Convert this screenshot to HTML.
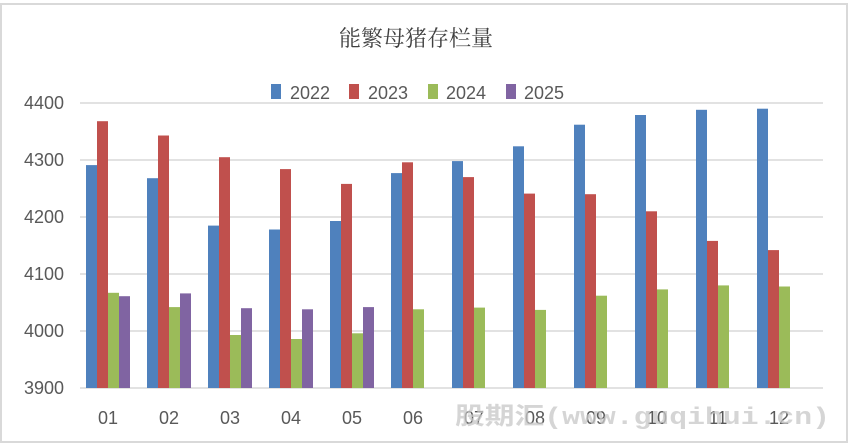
<!DOCTYPE html>
<html><head><meta charset="utf-8"><style>
html,body{margin:0;padding:0;background:#fff;}
svg{display:block;}
</style></head><body>
<svg width="852" height="444" xmlns="http://www.w3.org/2000/svg" font-family="Liberation Sans, Noto Sans CJK SC, sans-serif">
<rect x="0" y="0" width="852" height="444" fill="#fff"/>
<rect x="1" y="4" width="846" height="438" fill="none" stroke="#d9d9d9" stroke-width="2"/>
<text x="416" y="46" text-anchor="middle" font-size="22" fill="#404040" font-family="Noto Serif CJK SC, Noto Sans CJK SC, serif">能繁母猪存栏量</text>
<g font-size="18" fill="#595959">
<rect x="271" y="84" width="10" height="15" fill="#4f81bd"/><text x="290" y="99">2022</text>
<rect x="349" y="84" width="10" height="15" fill="#c0504d"/><text x="368" y="99">2023</text>
<rect x="428" y="84" width="10" height="15" fill="#9bbb59"/><text x="446" y="99">2024</text>
<rect x="506" y="84" width="10" height="15" fill="#8064a2"/><text x="524" y="99">2025</text>
</g>
<g stroke="#d9d9d9" stroke-width="1.5">
<line x1="80" y1="103" x2="823" y2="103"/>
<line x1="80" y1="160" x2="823" y2="160"/>
<line x1="80" y1="217" x2="823" y2="217"/>
<line x1="80" y1="274" x2="823" y2="274"/>
<line x1="80" y1="331" x2="823" y2="331"/>
<line x1="80" y1="388" x2="823" y2="388"/>
</g>
<g font-size="18" fill="#595959" text-anchor="end">
<text x="64" y="109">4400</text><text x="64" y="166">4300</text><text x="64" y="223">4200</text>
<text x="64" y="280">4100</text><text x="64" y="337">4000</text><text x="64" y="394">3900</text>
</g>
<g>
<rect x="86" y="165.1" width="11" height="222.9" fill="#4f81bd"/><rect x="97" y="121.2" width="11" height="266.8" fill="#c0504d"/><rect x="108" y="292.8" width="11" height="95.2" fill="#9bbb59"/><rect x="119" y="296.2" width="11" height="91.8" fill="#8064a2"/>
<rect x="147" y="178.2" width="11" height="209.8" fill="#4f81bd"/><rect x="158" y="135.5" width="11" height="252.5" fill="#c0504d"/><rect x="169" y="307.1" width="11" height="80.9" fill="#9bbb59"/><rect x="180" y="293.4" width="11" height="94.6" fill="#8064a2"/>
<rect x="208" y="225.6" width="11" height="162.4" fill="#4f81bd"/><rect x="219" y="157.2" width="11" height="230.8" fill="#c0504d"/><rect x="230" y="335" width="11" height="53" fill="#9bbb59"/><rect x="241" y="308.2" width="11" height="79.8" fill="#8064a2"/>
<rect x="269" y="229.5" width="11" height="158.5" fill="#4f81bd"/><rect x="280" y="169.1" width="11" height="218.9" fill="#c0504d"/><rect x="291" y="339" width="11" height="49" fill="#9bbb59"/><rect x="302" y="309.3" width="11" height="78.7" fill="#8064a2"/>
<rect x="330" y="221" width="11" height="167" fill="#4f81bd"/><rect x="341" y="183.9" width="11" height="204.1" fill="#c0504d"/><rect x="352" y="333.3" width="11" height="54.7" fill="#9bbb59"/><rect x="363" y="307.1" width="11" height="80.9" fill="#8064a2"/>
<rect x="391" y="173.1" width="11" height="214.9" fill="#4f81bd"/><rect x="402" y="162.3" width="11" height="225.7" fill="#c0504d"/><rect x="413" y="309.3" width="11" height="78.7" fill="#9bbb59"/>
<rect x="452" y="161.1" width="11" height="226.9" fill="#4f81bd"/><rect x="463" y="177.1" width="11" height="210.9" fill="#c0504d"/><rect x="474" y="307.6" width="11" height="80.4" fill="#9bbb59"/>
<rect x="513" y="146.3" width="11" height="241.7" fill="#4f81bd"/><rect x="524" y="193.6" width="11" height="194.4" fill="#c0504d"/><rect x="535" y="309.9" width="11" height="78.1" fill="#9bbb59"/>
<rect x="574" y="124.7" width="11" height="263.3" fill="#4f81bd"/><rect x="585" y="194.2" width="11" height="193.8" fill="#c0504d"/><rect x="596" y="295.7" width="11" height="92.3" fill="#9bbb59"/>
<rect x="635" y="115" width="11" height="273" fill="#4f81bd"/><rect x="646" y="211.3" width="11" height="176.7" fill="#c0504d"/><rect x="657" y="289.4" width="11" height="98.6" fill="#9bbb59"/>
<rect x="696" y="109.8" width="11" height="278.2" fill="#4f81bd"/><rect x="707" y="240.9" width="11" height="147.1" fill="#c0504d"/><rect x="718" y="285.4" width="11" height="102.6" fill="#9bbb59"/>
<rect x="757" y="108.7" width="11" height="279.3" fill="#4f81bd"/><rect x="768" y="250.1" width="11" height="137.9" fill="#c0504d"/><rect x="779" y="286.5" width="11" height="101.5" fill="#9bbb59"/>
</g>
<g font-size="18" fill="#595959" text-anchor="middle">
<text x="108" y="424">01</text><text x="169" y="424">02</text><text x="230" y="424">03</text><text x="291" y="424">04</text>
<text x="352" y="424">05</text><text x="413" y="424">06</text><text x="474" y="424">07</text><text x="535" y="424">08</text>
<text x="596" y="424">09</text><text x="657" y="424">10</text><text x="718" y="424">11</text><text x="779" y="424">12</text>
</g>
<text x="455" y="424" font-size="24" font-weight="bold" fill="#c8c8c8" opacity="0.75" textLength="375" lengthAdjust="spacingAndGlyphs" font-family="Liberation Mono, Noto Sans CJK SC, monospace">股期汇(www.guqihui.cn)</text>
</svg>
</body></html>
